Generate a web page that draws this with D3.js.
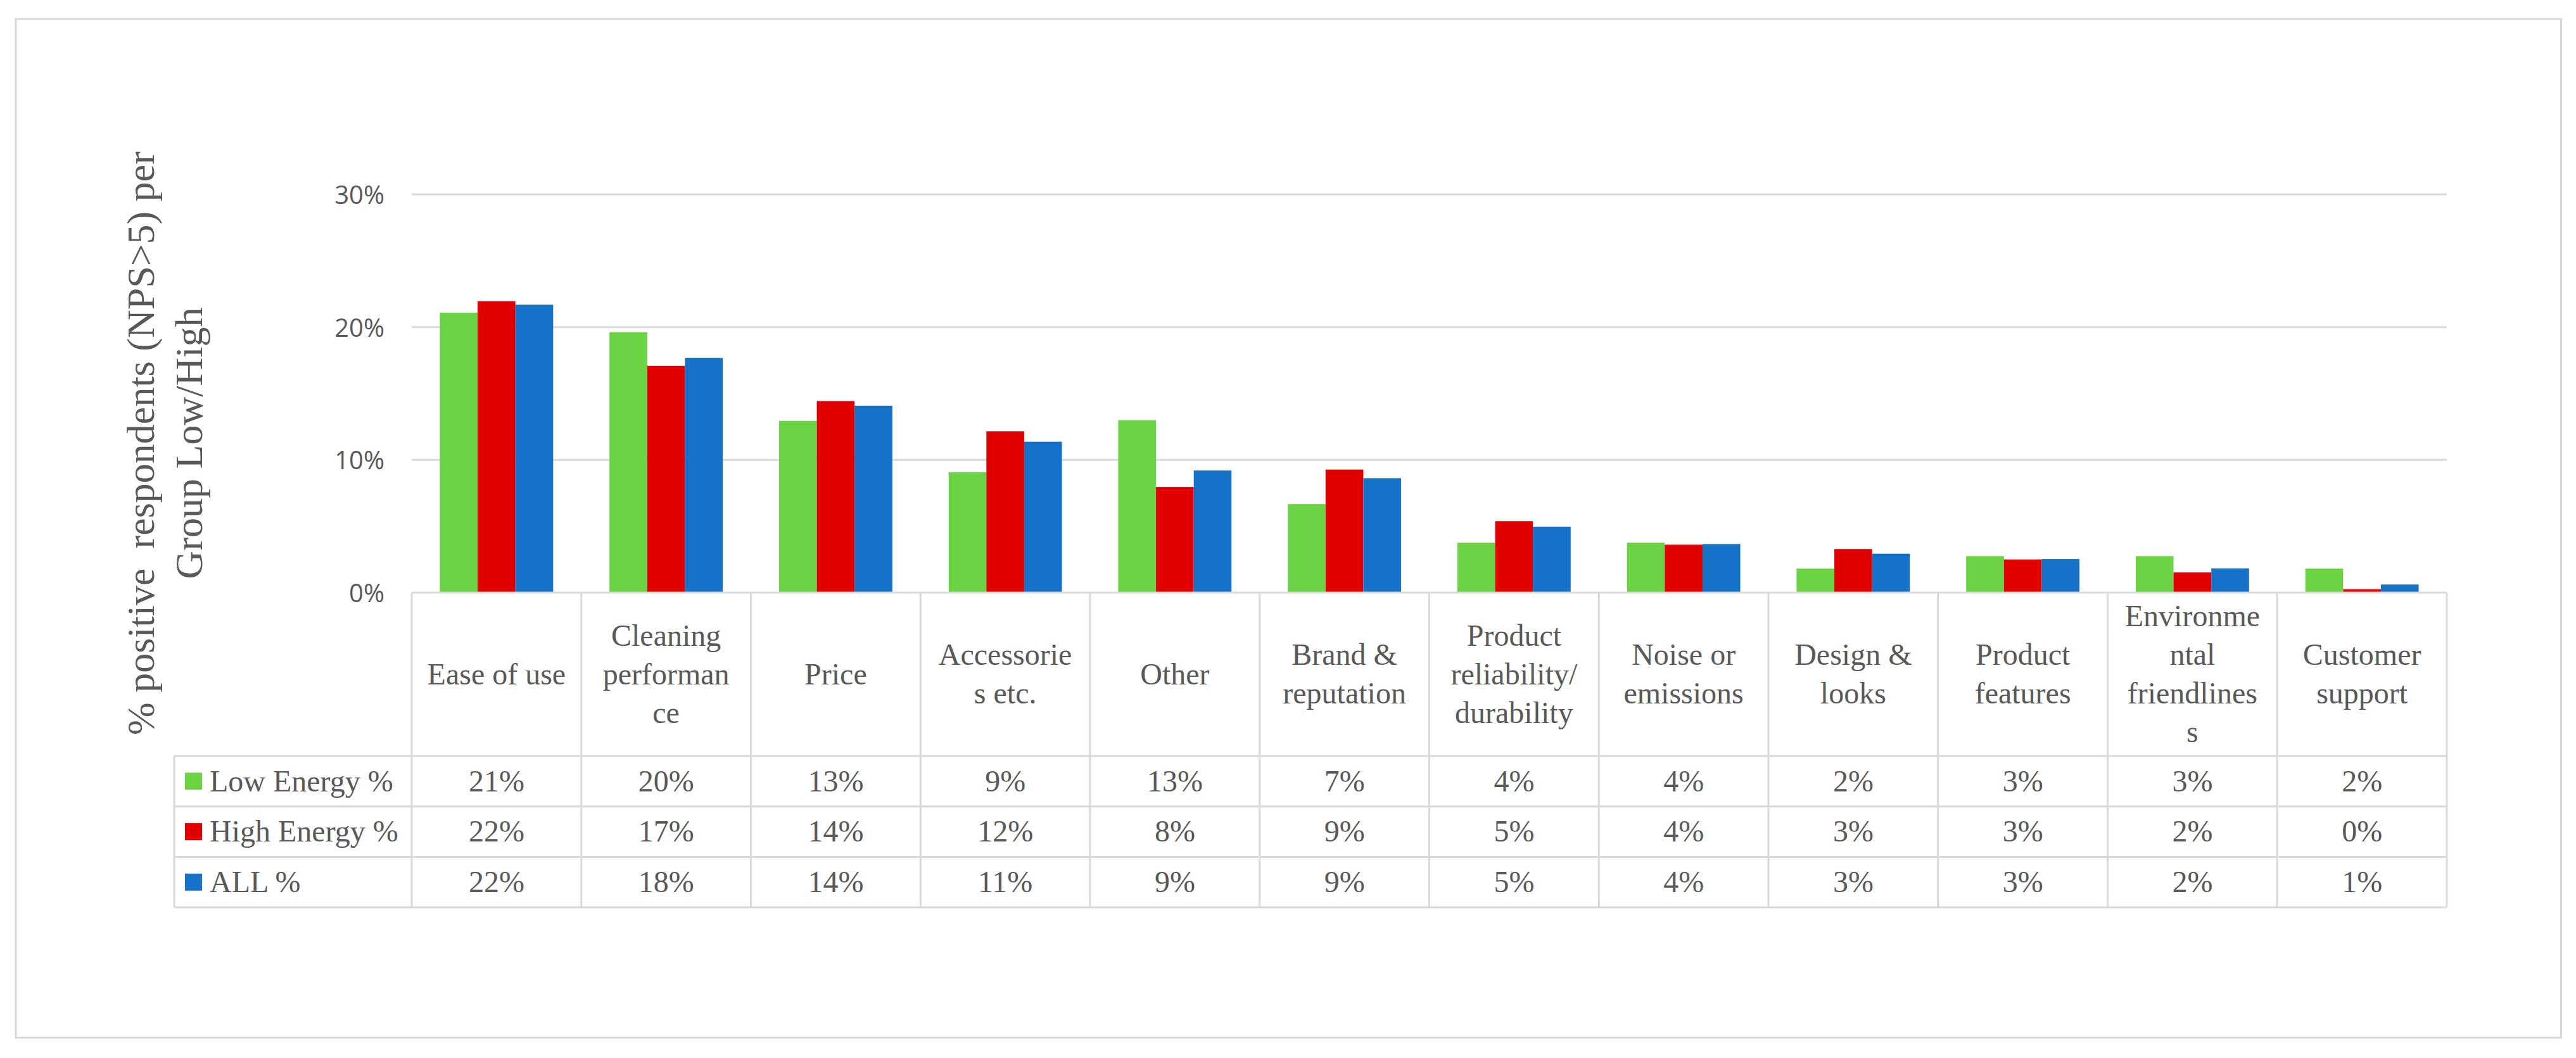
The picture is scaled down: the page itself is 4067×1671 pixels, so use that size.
<!DOCTYPE html>
<html>
<head>
<meta charset="utf-8">
<script src="https://cdn.jsdelivr.net/npm/d3@7"></script>
<style>
  html, body { margin: 0; padding: 0; background: #fff; }
  svg { display: block; }
</style>
</head>
<body>
<svg id="chart" width="4067" height="1671"></svg>
<script>
// ---------- data ----------
const categories = [
  "Ease of use", "Cleaning performance", "Price", "Accessories etc.", "Other",
  "Brand & reputation", "Product reliability/ durability", "Noise or emissions",
  "Design & looks", "Product features", "Environmental friendliness", "Customer support"
];
// category labels as wrapped in the data-table header
const categoryLines = [
  ["Ease of use"],
  ["Cleaning", "performan", "ce"],
  ["Price"],
  ["Accessorie", "s etc."],
  ["Other"],
  ["Brand &", "reputation"],
  ["Product", "reliability/", "durability"],
  ["Noise or", "emissions"],
  ["Design &", "looks"],
  ["Product", "features"],
  ["Environme", "ntal", "friendlines", "s"],
  ["Customer", "support"]
];
const seriesNames = ["Low Energy %", "High Energy %", "ALL %"];
const lowEnergy  = [21.09, 19.62, 12.94, 9.07, 12.99, 6.67, 3.76, 3.76, 1.81, 2.75, 2.75, 1.81];
const highEnergy = [21.95, 17.08, 14.43, 12.15, 7.96, 9.27, 5.38, 3.61, 3.28, 2.5, 1.52, 0.26];
const allResp    = [21.69, 17.69, 14.08, 11.37, 9.20, 8.62, 4.97, 3.66, 2.93, 2.53, 1.83, 0.61];
const seriesColors = ["#6cd444", "#e00000", "#1572c8"];
const yTicks = [0, 10, 20, 30];
const yTitleLines = ["% positive  respondents (NPS>5) per", "Group Low/High"];

const seriesValues = [lowEnergy, highEnergy, allResp];

// ---------- layout ----------
const svg = d3.select("#chart");
const textColor = "#595959";
const lineColor = "#d9d9d9";
const serif = "'Liberation Serif', 'DejaVu Serif', serif";
const sans = "'Open Sans', 'Liberation Sans', sans-serif";

const plotLeft = 650, plotRight = 3863;
const yTop = 307, yZero = 936;
const tableLeft = 275;
const headerBottom = 1194;
const rowH = 79.7;

// outer border
svg.append("rect")
  .attr("x", 25).attr("y", 30)
  .attr("width", 4043.5 - 25).attr("height", 1639 - 30)
  .attr("fill", "none").attr("stroke", lineColor).attr("stroke-width", 3);

const x = d3.scaleBand().domain(categories).range([plotLeft, plotRight]).padding(0);
const bw = x.bandwidth();
const xs = d3.scaleBand().domain(seriesNames).range([bw * 0.166, bw * 0.834]).padding(0);
const y = d3.scaleLinear().domain([0, 30]).range([yZero, yTop]);

// gridlines
svg.append("g").selectAll("line")
  .data(yTicks.filter(d => d > 0))
  .join("line")
  .attr("x1", plotLeft).attr("x2", plotRight)
  .attr("y1", d => y(d)).attr("y2", d => y(d))
  .attr("stroke", lineColor).attr("stroke-width", 3);

// y axis labels
const yAxis = d3.axisLeft(y).tickValues(yTicks).tickFormat(d => d + "%").tickSize(0).tickPadding(0);
const yg = svg.append("g").attr("transform", `translate(607,0)`).call(yAxis);
yg.select(".domain").remove();
yg.selectAll("text")
  .attr("font-family", sans).attr("font-size", 40).attr("fill", textColor)
  .attr("dy", "0.36em");

// bars
const groups = svg.append("g").selectAll("g")
  .data(categories)
  .join("g")
  .attr("transform", d => `translate(${x(d)},0)`);
groups.selectAll("rect")
  .data((d, i) => seriesNames.map((s, k) => ({ s, v: seriesValues[k][i], k })))
  .join("rect")
  .attr("x", d => xs(d.s))
  .attr("width", xs.bandwidth())
  .attr("y", d => y(d.v))
  .attr("height", d => yZero - y(d.v))
  .attr("fill", d => seriesColors[d.k]);

// y title
const yt = svg.append("text")
  .attr("transform", "translate(243,700) rotate(-90)")
  .attr("font-family", serif).attr("font-size", 62).attr("fill", textColor)
  .attr("text-anchor", "middle")
  .style("white-space", "pre");
yTitleLines.forEach((l, i) => {
  yt.append("tspan").attr("x", 0).attr("y", i * 76).text(l);
});

// ---------- data table ----------
const tg = svg.append("g")
  .attr("stroke", lineColor).attr("stroke-width", 3).attr("fill", "none");
const tableBottom = headerBottom + rowH * 3;
// axis / header top line
tg.append("line").attr("x1", plotLeft).attr("x2", plotRight).attr("y1", yZero).attr("y2", yZero);
// horizontal row lines
[0, 1, 2, 3].forEach(r => {
  const yy = headerBottom + r * rowH;
  tg.append("line").attr("x1", tableLeft).attr("x2", plotRight).attr("y1", yy).attr("y2", yy);
});
// vertical lines
const colEdges = categories.map(c => x(c)).concat([plotRight]);
colEdges.forEach(xx => {
  tg.append("line").attr("x1", xx).attr("x2", xx).attr("y1", yZero).attr("y2", tableBottom);
});
tg.append("line").attr("x1", tableLeft).attr("x2", tableLeft).attr("y1", headerBottom).attr("y2", tableBottom);

// header labels
const headerMid = (yZero + headerBottom) / 2;
const lh = 61;
categories.forEach((c, i) => {
  const lines = categoryLines[i];
  const t = svg.append("text")
    .attr("font-family", serif).attr("font-size", 48).attr("fill", textColor)
    .attr("text-anchor", "middle");
  lines.forEach((l, j) => {
    t.append("tspan")
      .attr("x", x(c) + bw / 2)
      .attr("y", headerMid + (j - (lines.length - 1) / 2) * lh)
      .attr("dy", "0.33em")
      .text(l);
  });
});

// rows
seriesNames.forEach((s, k) => {
  const cy = headerBottom + rowH * k + rowH / 2;
  svg.append("rect")
    .attr("x", 292).attr("y", cy - 13.5).attr("width", 27).attr("height", 27)
    .attr("fill", seriesColors[k]);
  svg.append("text")
    .attr("x", 331).attr("y", cy).attr("dy", "0.33em")
    .attr("font-family", serif).attr("font-size", 48).attr("fill", textColor)
    .text(s);
  svg.append("g").selectAll("text")
    .data(categories)
    .join("text")
    .attr("x", d => x(d) + bw / 2)
    .attr("y", cy).attr("dy", "0.33em")
    .attr("text-anchor", "middle")
    .attr("font-family", serif).attr("font-size", 48).attr("fill", textColor)
    .text((d, i) => Math.round(seriesValues[k][i]) + "%");
});
</script>
</body>
</html>
